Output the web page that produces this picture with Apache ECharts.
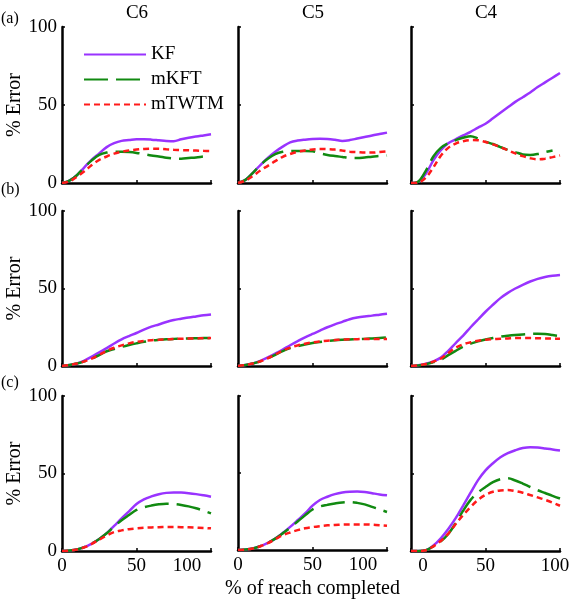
<!DOCTYPE html>
<html>
<head>
<meta charset="utf-8">
<script src="https://cdn.jsdelivr.net/npm/echarts@6/dist/echarts.min.js"></script>
<style>
html,body{margin:0;padding:0;background:#fff;}
#chart{width:575px;height:600px;}
</style>
</head>
<body>
<div id="chart"></div>
<script>
// % of reach completed (x positions shared by every panel)
const xPct = [0,5,10,15,20,25,30,35,40,45,50,55,60,65,70,75,80,85,90,95,100];
const columns = ['C6','C5','C4'];
const rowTags = ['(a)','(b)','(c)'];
const seriesNames = ['KF','mKFT','mTWTM'];
const xTickLabels = [0,50,100];
const yTickLabels = [0,50,100];

// Row (a)
const kfA6    = [0,1.5,5,10,15,19,23,25.5,27,27.5,28,28,27.8,27.4,27,26.8,28,29,29.8,30.5,31.2];
const mkftA6  = [0,1.5,5,10,14.5,18,19.5,20,20,19.8,19.3,18.5,17.6,17,16.2,15.7,15.6,16,16.4,17,17.5];
const mtwtmA6 = [0,1,4,7.5,11.5,14.8,17,18.8,20,20.8,21.4,21.8,22,21.9,21.6,21.3,21.1,21,20.8,20.6,20.5];
const kfA5    = [0,2,6.5,11.5,16,20,23.3,26,27.2,27.8,28.2,28.3,28.2,27.7,27,27.5,28.5,29.5,30.5,31.4,32.3];
const mkftA5  = [0,2,6.5,11.5,15.5,18.5,20,20.4,20.5,20.5,20.3,19,18,17.3,16.7,16.1,16,16.4,16.9,17.3,17.7];
const mtwtmA5 = [0,1.5,4.5,8,11,14,16.8,18.6,20,20.9,21.5,21.8,21.7,21.4,20.8,20.1,19.8,19.5,19.5,19.9,20.3];
const kfA4    = [0,0.8,6,14.5,21,25.5,28,30.5,32.8,35.5,38,41.5,45,48.5,52,55,58,61.5,64.5,67.5,70.5];
const mkftA4  = [0,1,8,17,22.5,25.5,27.5,29,30,28.5,26.5,25,23,21.2,19.8,18.3,18,18.6,19.8,20.8,null];
const mtwtmA4 = [0,0.3,3.5,10,17.5,22.5,25.3,26.8,27.5,27.4,26.3,24.8,23,21,19,17.2,15.9,15.2,15.6,16.6,17.7];

// Row (b)
const kfB6    = [0,0.6,1.6,3.5,6,8.8,11.5,14.5,17.2,19.3,21.3,23.5,25.4,26.8,28.4,29.7,30.5,31.3,32,32.7,33.3];
const mkftB6  = [0,0.6,1.6,3,4.8,7,9.5,11,12.3,13.5,14.6,15.6,16.4,16.9,17.3,17.5,17.6,17.8,17.9,18,18];
const mtwtmB6 = [0,0.6,1.6,3,4.8,7.2,9.8,11.8,13.3,14.6,15.6,16.2,16.6,16.9,17.2,17.4,17.6,17.7,17.8,17.9,18];
const kfB5    = [0,0.6,1.6,3.3,5.5,8,10.6,13.4,16,18.5,20.7,22.8,25,26.9,28.5,30.2,31.3,32,32.5,33.1,33.7];
const mkftB5  = [0,0.6,1.6,3,5,7.2,9.6,11.5,12.8,13.9,14.8,15.5,16.1,16.6,16.9,17.1,17.3,17.5,17.8,18.1,18.4];
const mtwtmB5 = [0,0.6,1.6,3,5,7.4,9.9,11.9,13.3,14.4,15.2,15.8,16.3,16.7,17,17.2,17.3,17.4,17.4,17.4,17.4];
const kfB4    = [0,0.5,1.4,3,5.4,9.8,14.8,19.6,25,30,35,39.5,43.8,47.2,50,52.4,54.5,56.2,57.4,58.2,58.7];
const mkftB4  = [0,0.4,1.2,2.5,4,7,9.8,12.4,14.4,15.9,17.1,18.1,18.9,19.5,20,20.4,20.7,20.8,20.6,20,19.3];
const mtwtmB4 = [0,0.5,1.3,2.8,4.8,8.4,11.8,14,15.3,16.3,16.9,17.3,17.6,17.8,18,18,18,17.9,17.8,17.7,17.6];

// Row (c)
const kfC6    = [0,0.3,1,2.5,4.8,7.8,11.5,16.2,21,25.6,30.3,33.3,35.2,36.6,37.5,37.8,37.7,37.3,36.7,35.9,35];
const mkftC6  = [0,0.3,1,2.5,4.8,7.8,11.4,15.8,19.8,23.2,26.5,28.2,29.3,30.1,30.5,30.3,29.7,28.8,27.6,26,24.3];
const mtwtmC6 = [0,0.3,1,2.4,4.6,7.3,10,12.2,13.3,14.1,14.6,15,15.2,15.4,15.5,15.5,15.4,15.3,15.1,14.9,14.6];
const kfC5    = [0,0.3,1,2.5,4.6,7.4,11,15,19.3,23.7,28.8,32.5,34.6,36.3,37.4,37.9,38,37.7,36.9,36.1,35.5];
const mkftC5  = [0,0.3,1,2.5,4.6,7.4,10.8,14.5,18.5,22.5,26.3,28.3,29.3,30.2,30.9,31.1,30.6,29.6,28,26.3,24.7];
const mtwtmC5 = [0,0.3,1,2.4,4.4,7,9.6,11.4,12.9,14.1,14.9,15.5,16,16.3,16.5,16.6,16.6,16.6,16.4,16.1,15.7];
const kfC4    = [0,0,0.5,3.5,8.2,14.2,21.2,29.3,37.6,45.7,52,56.6,60.5,63.2,65,66.4,67,66.8,66.2,65.5,64.8];
const mkftC4  = [0,0,0.5,3,6.2,11,18,26,33,37.8,41.3,44.4,46.3,46.9,45.5,43.5,41.3,39.2,37.4,35.6,33.9];
const mtwtmC4 = [0,0,0.5,3,6.5,11.2,17.4,23.2,28.4,33,36.2,38.2,39.1,39.3,38.6,37.6,36.1,34.6,33,31.2,29.2];

const panelData = [
  [[kfA6,mkftA6,mtwtmA6],[kfA5,mkftA5,mtwtmA5],[kfA4,mkftA4,mtwtmA4]],
  [[kfB6,mkftB6,mtwtmB6],[kfB5,mkftB5,mtwtmB5],[kfB4,mkftB4,mtwtmB4]],
  [[kfC6,mkftC6,mtwtmC6],[kfC5,mkftC5,mtwtmC5],[kfC4,mkftC4,mtwtmC4]]
];

const FONT = '"Liberation Serif", "DejaVu Serif", serif';
const colLeft = [62, 238, 411];
const rowTop = [27, 211, 396];
const rowH = [156, 155, 155];
const panelW = 149;
const colors = ['#9933FF', '#118A11', '#FF1A1A'];
const dashes = ['solid', [24, 8], [6, 4]];

const grids = [], xAxes = [], yAxes = [], series = [];
let idx = 0;
for (let r = 0; r < 3; r++) {
  for (let c = 0; c < 3; c++) {
    grids.push({ left: colLeft[c], top: rowTop[r], width: panelW, height: rowH[r], containLabel: false });
    const isBottom = r === 2;
    xAxes.push({
      gridIndex: idx, type: 'value', min: 0, max: 100, interval: 50,
      axisLine: { show: true, onZero: false, lineStyle: { color: '#000', width: 2.5 } },
      axisTick: { show: true, inside: true, length: 3, lineStyle: { color: '#000', width: 1.5 } },
      splitLine: { show: false },
      axisLabel: {
        show: isBottom, color: '#000', fontFamily: FONT, fontSize: 19, margin: 6,
        formatter: function (v) {
          if (c < 2 && v === 100) return '{l|100}';
          if (c === 2 && v === 0) return '{z|0}';
          if (c === 2 && v === 100) return '{m|100}';
          return String(v);
        },
        rich: {
          l: { fontFamily: FONT, fontSize: 19, color: '#000', padding: [0, 48, 0, 0] },
          z: { fontFamily: FONT, fontSize: 19, color: '#000', padding: [0, 0, 0, 24] },
          m: { fontFamily: FONT, fontSize: 19, color: '#000', padding: [0, 10, 0, 0] }
        }
      },
      name: (isBottom && c === 1) ? '% of reach completed' : '',
      nameLocation: 'middle', nameGap: 29,
      nameTextStyle: { color: '#000', fontFamily: FONT, fontSize: 20 }
    });
    yAxes.push({
      gridIndex: idx, type: 'value', min: 0, max: 100, interval: 50,
      axisLine: { show: true, onZero: false, lineStyle: { color: '#000', width: 2.5 } },
      axisTick: { show: true, inside: true, length: 3, lineStyle: { color: '#000', width: 1.5 } },
      splitLine: { show: false },
      axisLabel: { show: c === 0, color: '#000', fontFamily: FONT, fontSize: 19, margin: 5 },
      name: c === 0 ? '% Error' : '',
      nameLocation: 'middle', nameRotate: 90, nameGap: 35,
      nameTextStyle: { color: '#000', fontFamily: FONT, fontSize: 20 }
    });
    for (let s = 0; s < 3; s++) {
      const vals = panelData[r][c][s];
      series.push({
        name: seriesNames[s], type: 'line', xAxisIndex: idx, yAxisIndex: idx,
        data: xPct.map((x, i) => [x, vals[i]]),
        smooth: 0.35, symbol: 'none', showSymbol: false, connectNulls: false,
        lineStyle: { color: colors[s], width: 2.5, type: dashes[s] },
        itemStyle: { color: colors[s] },
        animation: false, silent: true, z: 2 + s
      });
    }
    idx++;
  }
}

const graphics = [];
const colCenters = [137, 313, 486];
columns.forEach((t, c) => graphics.push({
  type: 'text', x: colCenters[c], y: 13,
  style: { text: t, fill: '#000', font: '19px ' + FONT, textAlign: 'center', textVerticalAlign: 'middle' }
}));
const tagY = [19, 190, 383];
rowTags.forEach((t, r) => graphics.push({
  type: 'text', x: 1, y: tagY[r],
  style: { text: t, fill: '#000', font: '16px ' + FONT, textAlign: 'left', textVerticalAlign: 'middle' }
}));

const chart = echarts.init(document.getElementById('chart'), null, { renderer: 'canvas' });
chart.setOption({
  backgroundColor: '#fff',
  animation: false,
  grid: grids, xAxis: xAxes, yAxis: yAxes, series: series,
  legend: {
    data: seriesNames, orient: 'vertical', left: 78, top: 40,
    itemWidth: 62, itemHeight: 14, itemGap: 6,
    itemStyle: { opacity: 0, color: 'transparent', borderWidth: 0 },
    textStyle: { color: '#000', fontFamily: FONT, fontSize: 19 },
    selectedMode: false
  },
  graphic: graphics
});
</script>
</body>
</html>
